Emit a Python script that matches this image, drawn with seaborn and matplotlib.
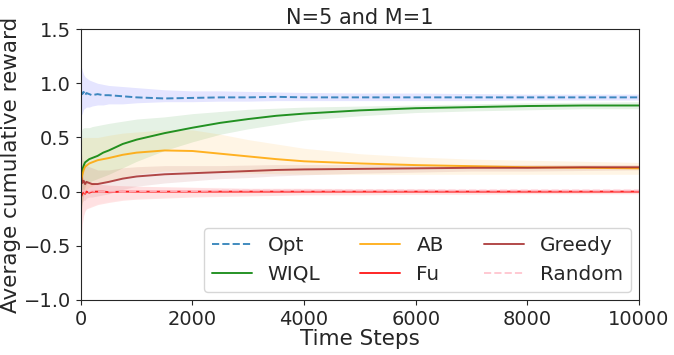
import numpy as np
import pandas as pd
import matplotlib
matplotlib.use("Agg")
import matplotlib.pyplot as plt
import seaborn as sns

sns.set_style("ticks")
plt.rcParams['font.family'] = ['DejaVu Sans']

t = [0, 25, 50, 75, 100, 150, 200, 300, 400, 500, 750, 1000, 1500, 2000,
     2500, 3000, 3500, 4000, 5000, 6000, 7000, 8000, 9000, 10000]

opt_mean = [0.93, 0.90, 0.92, 0.89, 0.91, 0.90, 0.89, 0.90, 0.89, 0.89, 0.88, 0.87,
            0.86, 0.865, 0.87, 0.87, 0.875, 0.87, 0.87, 0.87, 0.87, 0.87, 0.87, 0.87]
opt_upper = [1.17, 1.12, 1.08, 1.06, 1.05, 1.03, 1.02, 1.00, 0.99, 0.98, 0.97, 0.96,
             0.94, 0.93, 0.93, 0.925, 0.92, 0.915, 0.91, 0.91, 0.905, 0.90, 0.90, 0.90]
opt_lower = [0.70, 0.72, 0.76, 0.77, 0.78, 0.78, 0.79, 0.80, 0.80, 0.81, 0.81, 0.82,
             0.83, 0.83, 0.835, 0.835, 0.84, 0.84, 0.84, 0.84, 0.84, 0.845, 0.845, 0.845]

wiql_mean = [0.12, 0.20, 0.24, 0.27, 0.28, 0.30, 0.31, 0.33, 0.36, 0.38, 0.44, 0.48,
             0.54, 0.59, 0.635, 0.67, 0.70, 0.72, 0.75, 0.77, 0.78, 0.79, 0.795, 0.795]
wiql_upper = [0.55, 0.58, 0.59, 0.59, 0.59, 0.59, 0.60, 0.61, 0.62, 0.63, 0.65, 0.67,
              0.69, 0.72, 0.74, 0.76, 0.77, 0.78, 0.79, 0.80, 0.81, 0.82, 0.825, 0.83]
wiql_lower = [-0.20, -0.10, 0.00, 0.05, 0.07, 0.09, 0.10, 0.12, 0.14, 0.16, 0.22, 0.28,
              0.38, 0.46, 0.53, 0.58, 0.62, 0.66, 0.70, 0.73, 0.745, 0.755, 0.765, 0.765]

ab_mean = [0.05, 0.15, 0.20, 0.23, 0.24, 0.26, 0.27, 0.29, 0.30, 0.31, 0.34, 0.36,
           0.38, 0.375, 0.35, 0.325, 0.30, 0.28, 0.26, 0.245, 0.235, 0.225, 0.22, 0.215]
ab_upper = [0.45, 0.50, 0.50, 0.50, 0.50, 0.50, 0.50, 0.50, 0.51, 0.52, 0.54, 0.55,
            0.57, 0.57, 0.53, 0.48, 0.44, 0.40, 0.35, 0.32, 0.30, 0.29, 0.28, 0.27]
ab_lower = [-0.30, -0.10, -0.05, 0.00, 0.02, 0.04, 0.05, 0.08, 0.09, 0.10, 0.13, 0.16,
            0.19, 0.19, 0.18, 0.17, 0.165, 0.16, 0.16, 0.16, 0.16, 0.16, 0.16, 0.16]

fu_mean = [-0.05, -0.02, 0.00, -0.02, 0.00, -0.01, 0.00, 0.00, 0.00, -0.005, 0.00, 0.00,
           0.00, 0.00, 0.00, 0.00, 0.00, 0.00, 0.00, 0.00, 0.00, 0.00, 0.00, 0.00]
fu_upper = [0.25, 0.15, 0.12, 0.10, 0.09, 0.08, 0.08, 0.07, 0.065, 0.06, 0.055, 0.05,
            0.045, 0.04, 0.035, 0.03, 0.03, 0.03, 0.025, 0.025, 0.02, 0.02, 0.02, 0.02]
fu_lower = [-0.55, -0.30, -0.22, -0.18, -0.16, -0.15, -0.14, -0.12, -0.11, -0.10, -0.08, -0.07,
            -0.06, -0.05, -0.045, -0.04, -0.035, -0.03, -0.03, -0.025, -0.025, -0.02, -0.02, -0.02]

greedy_mean = [0.15, 0.08, 0.10, 0.07, 0.09, 0.08, 0.07, 0.07, 0.08, 0.09, 0.12, 0.14,
               0.16, 0.17, 0.18, 0.19, 0.20, 0.205, 0.21, 0.215, 0.22, 0.22, 0.225, 0.225]
greedy_upper = [0.40, 0.30, 0.28, 0.25, 0.24, 0.23, 0.22, 0.20, 0.20, 0.20, 0.22, 0.23,
                0.24, 0.24, 0.24, 0.245, 0.25, 0.25, 0.25, 0.25, 0.25, 0.25, 0.25, 0.25]
greedy_lower = [-0.15, -0.10, -0.08, -0.08, -0.06, -0.05, -0.05, -0.04, -0.03, -0.02, 0.02, 0.05,
                0.08, 0.10, 0.12, 0.13, 0.145, 0.155, 0.17, 0.18, 0.19, 0.19, 0.195, 0.20]

random_mean = [0.02, 0.00, 0.01, -0.01, 0.00, 0.00, 0.01, 0.00, 0.00, 0.00, 0.00, 0.005,
               0.005, 0.005, 0.01, 0.01, 0.01, 0.01, 0.01, 0.01, 0.01, 0.01, 0.01, 0.01]
random_upper = [0.30, 0.18, 0.14, 0.11, 0.10, 0.09, 0.08, 0.07, 0.065, 0.06, 0.055, 0.05,
                0.045, 0.04, 0.04, 0.035, 0.035, 0.035, 0.03, 0.03, 0.03, 0.03, 0.03, 0.03]
random_lower = [-0.40, -0.25, -0.20, -0.17, -0.15, -0.14, -0.13, -0.11, -0.10, -0.09, -0.07, -0.06,
                -0.05, -0.04, -0.035, -0.03, -0.03, -0.025, -0.02, -0.02, -0.015, -0.015, -0.015, -0.015]

series = [
    ("Opt", opt_mean, opt_lower, opt_upper, "tab:blue", "blue", "--"),
    ("WIQL", wiql_mean, wiql_lower, wiql_upper, "green", "green", "-"),
    ("AB", ab_mean, ab_lower, ab_upper, "orange", "orange", "-"),
    ("Fu", fu_mean, fu_lower, fu_upper, "red", "red", "-"),
    ("Greedy", greedy_mean, greedy_lower, greedy_upper, "brown", "brown", "-"),
    ("Random", random_mean, random_lower, random_upper, "pink", "pink", "--"),
]

fig = plt.figure(figsize=(6.74, 3.55), dpi=100)
ax = fig.add_axes([0.120, 0.155, 0.828, 0.763])

for name, m, lo, hi, lc, fc, ls in series:
    df = pd.DataFrame({"t": t, "v": m})
    sns.lineplot(data=df, x="t", y="v", ax=ax, color=lc, linestyle=ls,
                 linewidth=1.4, alpha=0.85, label=name)
    ax.fill_between(t, lo, hi, color=fc, alpha=0.1, linewidth=0)

ax.set_xlim(0, 10000)
ax.set_ylim(-1.0, 1.5)
ax.set_xticks([0, 2000, 4000, 6000, 8000, 10000])
ax.set_yticks([-1.0, -0.5, 0.0, 0.5, 1.0, 1.5])
ax.tick_params(labelsize=14)
ax.set_xlabel("Time Steps", fontsize=15.5, labelpad=0)
ax.set_ylabel("Average cumulative reward", fontsize=15.5, labelpad=2)
ax.set_title("N=5 and M=1", fontsize=15, pad=4)
ax.legend(loc="lower right", ncol=3, fontsize=14.4, borderaxespad=0.4)

fig.savefig("out.png", dpi=100)
